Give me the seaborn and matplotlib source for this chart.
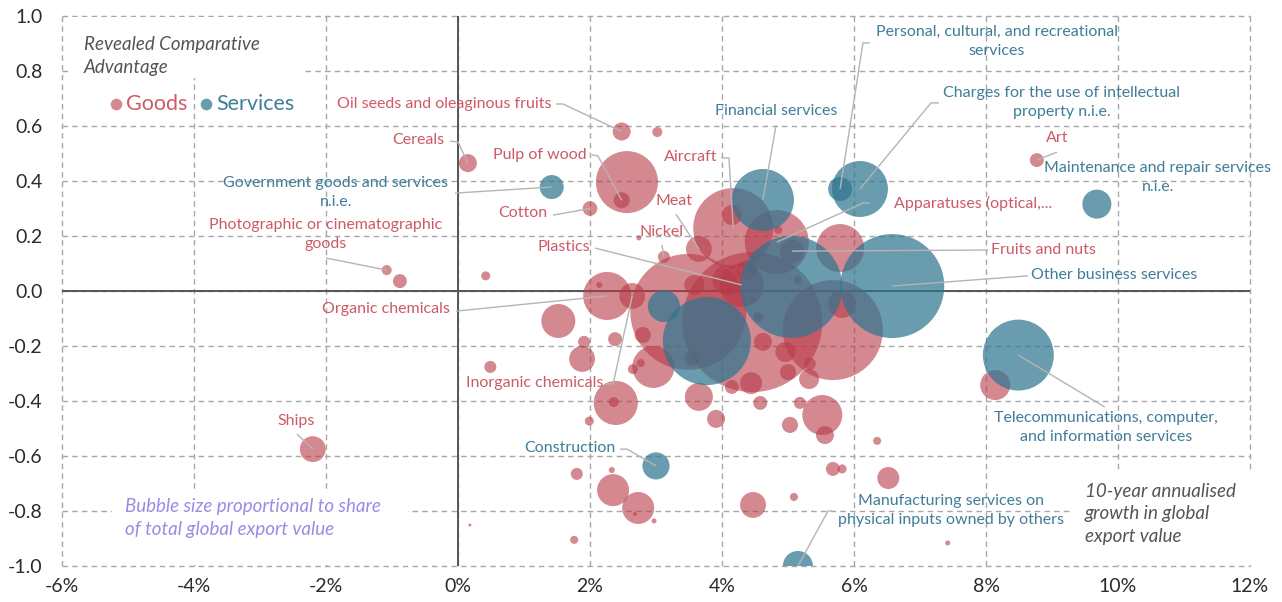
import matplotlib
matplotlib.use("Agg")
import matplotlib.pyplot as plt
import seaborn as sns
import pandas as pd
from matplotlib.patches import Rectangle

# ---------------------------------------------------------------------------
# Data: 10-year annualised export growth (%), revealed comparative advantage,
# and share of total global export value (%)
# ---------------------------------------------------------------------------
goods_growth = [2.48, 0.15, 2.48, 2.56, 2.00, 3.02, -1.08, -0.88, -2.20, 0.42,
                0.49, 1.52, 1.91, 1.88, 1.99, 2.64, 2.26, 2.14, 2.39, 2.36,
                1.80, 2.33, 2.35, 2.73, 2.68, 2.97, 1.76, 0.18, 2.74, 3.12,
                3.65, 4.17, 4.15, 4.83, 5.06, 5.79, 5.82, 3.49, 4.46, 5.68,
                4.30, 3.58, 2.80, 2.38, 2.96, 2.77, 2.65, 3.65, 3.91, 3.55,
                4.15, 4.44, 4.58, 5.18, 5.03, 5.52, 5.56, 6.35, 5.68, 5.82,
                6.52, 5.09, 4.47, 5.32, 5.33, 5.00, 4.96, 4.62, 5.15, 4.47,
                4.55, 8.14, 8.77, 7.42, 4.85, 4.45, 4.08, 4.38]
goods_rca = [0.580, 0.465, 0.330, 0.396, 0.300, 0.578, 0.076, 0.036, -0.575, 0.055,
             -0.276, -0.109, -0.185, -0.247, -0.473, -0.018, -0.018, 0.022, -0.407, -0.404,
             -0.665, -0.651, -0.724, -0.789, -0.811, -0.836, -0.905, -0.851, 0.193, 0.124,
             0.153, 0.229, 0.276, 0.178, 0.145, 0.156, -0.047, -0.076, -0.113, -0.142,
             0.022, 0.022, -0.160, -0.175, -0.276, -0.262, -0.284, -0.385, -0.465, -0.244,
             -0.349, -0.335, -0.407, -0.407, -0.487, -0.451, -0.524, -0.545, -0.647, -0.647,
             -0.680, -0.749, -0.778, -0.320, -0.265, -0.295, -0.222, -0.185, 0.040, -0.033,
             -0.095, -0.342, 0.476, -0.916, 0.222, 0.084, 0.040, 0.076]
goods_share = [0.15, 0.15, 0.12, 1.78, 0.10, 0.046, 0.046, 0.09, 0.31, 0.038,
               0.067, 0.535, 0.067, 0.31, 0.038, 0.31, 1.07, 0.017, 0.90, 0.046,
               0.067, 0.017, 0.474, 0.474, 0.0074, 0.0116, 0.030, 0.0042, 0.0116, 0.067,
               0.31, 2.96, 0.185, 1.90, 0.267, 1.07, 0.363, 6.23, 9.07, 4.63,
               0.90, 0.185, 0.12, 0.09, 0.82, 0.030, 0.046, 0.363, 0.15, 0.12,
               0.09, 0.224, 0.09, 0.067, 0.12, 0.74, 0.15, 0.030, 0.09, 0.038,
               0.224, 0.030, 0.31, 0.185, 0.067, 0.12, 0.185, 0.15, 0.030, 0.017,
               0.046, 0.417, 0.09, 0.0116, 0.030, 0.046, 0.417, 0.185]
goods_label = ["Oil seeds and oleaginous fruits", "Cereals", "Pulp of wood", "", "Cotton",
               "", "Photographic or cinematographic\ngoods", "", "Ships", "",
               "", "", "", "", "", "Inorganic chemicals", "Organic chemicals", "", "", "",
               "", "", "", "", "", "", "", "", "", "Nickel",
               "Meat", "Aircraft", "", "Apparatuses (optical,...", "Fruits and nuts", "", "", "", "", "",
               "Plastics", "", "", "", "", "", "", "", "", "",
               "", "", "", "", "", "", "", "", "", "",
               "", "", "", "", "", "", "", "", "", "",
               "", "", "Art", "", "", "", "", ""]

services_growth = [1.42, 4.62, 5.79, 6.09, 9.68, 6.58, 8.49, 3.00, 5.15, 3.12, 3.77, 5.05]
services_rca = [0.378, 0.331, 0.371, 0.371, 0.316, 0.018, -0.233, -0.636, -1.0, -0.055, -0.182, 0.015]
services_share = [0.267, 1.78, 0.267, 1.45, 0.39, 5.00, 2.33, 0.34, 0.417, 0.474, 3.59, 4.82]
services_label = ["Government goods and services\nn.i.e.", "Financial services",
                  "Personal, cultural, and recreational\nservices",
                  "Charges for the use of intellectual\nproperty n.i.e.",
                  "Maintenance and repair services\nn.i.e.", "Other business services",
                  "Telecommunications, computer,\nand information services", "Construction",
                  "Manufacturing services on\nphysical inputs owned by others", "", "", ""]

x_ticks = [-6, -4, -2, 0, 2, 4, 6, 8, 10, 12]
y_ticks = [-1.0, -0.8, -0.6, -0.4, -0.2, 0.0, 0.2, 0.4, 0.6, 0.8, 1.0]

# ---------------------------------------------------------------------------
# Label placement: text anchor, alignment and leader-line waypoints
# (the leader always ends on the bubble itself)
# ---------------------------------------------------------------------------
label_layout = {
    "Oil seeds and oleaginous fruits": (1.41, 0.68, "right", [(1.485, 0.68), (1.59, 0.68)]),
    "Cereals": (-0.20, 0.549, "right", [(-0.12, 0.545), (0.0, 0.542)]),
    "Pulp of wood": (1.955, 0.495, "right", [(2.03, 0.495), (2.12, 0.491)]),
    "Cotton": (1.35, 0.284, "right", [(1.44, 0.276)]),
    "Photographic or cinematographic\ngoods": (-2.0, 0.205, "center", [(-2.0, 0.12)]),
    "Ships": (-2.455, -0.473, "center", [(-2.44, -0.52)]),
    "Organic chemicals": (-0.12, -0.065, "right", [(-0.03, -0.073)]),
    "Inorganic chemicals": (2.197, -0.335, "right", [(2.23, -0.338), (2.35, -0.338)]),
    "Aircraft": (3.924, 0.487, "right", [(3.985, 0.484), (4.106, 0.484)]),
    "Meat": (3.27, 0.327, "center", [(3.30, 0.28)]),
    "Nickel": (3.09, 0.215, "center", [(3.09, 0.167)]),
    "Plastics": (2.0, 0.16, "right", [(2.076, 0.156)]),
    "Apparatuses (optical,...": (6.606, 0.32, "left", [(6.24, 0.32), (6.136, 0.32)]),
    "Fruits and nuts": (8.076, 0.149, "left", [(8.03, 0.149)]),
    "Art": (9.076, 0.556, "center", [(9.076, 0.505)]),
    "Government goods and services\nn.i.e.": (-1.85, 0.358, "center", [(-0.045, 0.356)]),
    "Financial services": (4.82, 0.655, "center", [(4.82, 0.604)]),
    "Personal, cultural, and recreational\nservices": (8.167, 0.907, "center",
                                                     [(6.24, 0.902), (6.136, 0.902)]),
    "Charges for the use of intellectual\nproperty n.i.e.": (9.15, 0.687, "center",
                                                            [(7.288, 0.684), (7.167, 0.684)]),
    "Maintenance and repair services\nn.i.e.": (10.606, 0.413, "center", []),
    "Other business services": (8.68, 0.058, "left", [(8.636, 0.055)]),
    "Telecommunications, computer,\nand information services": (9.82, -0.498, "center",
                                                               [(9.80, -0.422)]),
    "Construction": (2.38, -0.571, "right", [(2.455, -0.575), (2.56, -0.575)]),
    "Manufacturing services on\nphysical inputs owned by others": (7.47, -0.798, "center",
                                                                   [(5.68, -0.80), (5.606, -0.80)]),
}

GOODS_FILL = "#b83a48"
SERVICES_FILL = "#2f7690"
GOODS_TEXT = "#cc5a66"
SERVICES_TEXT = "#3f7d98"
GRID = "#a8a8a8"
LEADER = "#b4b4b4"

sns.set_theme(style="white")
plt.rcParams["font.family"] = ["Lato", "DejaVu Sans"]

fig = plt.figure(figsize=(12.82, 6.02), dpi=100)
ax = fig.add_axes([62 / 1282, 1 - 566 / 602, (1250 - 62) / 1282, (566 - 16) / 602])

# area in points^2 proportional to export share
SHARE_MAX = 10.0
AREA_MAX = 11197.0

goods = pd.DataFrame({"growth": goods_growth, "rca": goods_rca, "share": goods_share,
                      "label": goods_label}).sort_values("share", ascending=False)
services = pd.DataFrame({"growth": services_growth, "rca": services_rca,
                         "share": services_share,
                         "label": services_label}).sort_values("share", ascending=False)

for df, col, a in [(goods, GOODS_FILL, 0.6), (services, SERVICES_FILL, 0.72)]:
    sns.scatterplot(data=df, x="growth", y="rca", size="share",
                    sizes=(0, AREA_MAX), size_norm=(0, SHARE_MAX),
                    color=col, alpha=a, linewidth=0, legend=False, ax=ax, zorder=3)

ax.set_xlim(-6, 12)
ax.set_ylim(-1, 1)
ax.set_xticks(x_ticks)
ax.set_yticks(y_ticks)
ax.set_xticklabels([f"{t}%" for t in x_ticks])
ax.set_yticklabels([f"{t:.1f}" for t in y_ticks])
ax.set_xlabel("")
ax.set_ylabel("")
ax.tick_params(axis="both", length=0, labelsize=14, labelcolor="#2b2b2b")
ax.tick_params(axis="y", pad=14)
ax.tick_params(axis="x", pad=9)
for sp in ax.spines.values():
    sp.set_visible(False)

# dashed grid, including the frame edges
for t in x_ticks:
    ax.axvline(t, color=GRID, lw=1, ls=(0, (4, 3)), zorder=0, clip_on=False)
for t in y_ticks:
    ax.axhline(t, color=GRID, lw=1, ls=(0, (4, 3)), zorder=0, clip_on=False)
ax.axvline(0, color="#555555", lw=1.4, zorder=1)
ax.axhline(0, color="#555555", lw=1.4, zorder=1)

# white panels behind the annotations
for (x0, y0, x1, y1) in [(-5.85, 0.775, -2.36, 0.995),
                         (-5.24, -0.995, -0.76, -0.731),
                         (9.32, -0.995, 12.3, -0.662)]:
    ax.add_patch(Rectangle((x0, y0), x1 - x0, y1 - y0, facecolor="white",
                           edgecolor="none", zorder=0.5, clip_on=False))

# labels with leader lines
for df, tcol in [(goods, GOODS_TEXT), (services, SERVICES_TEXT)]:
    for _, row in df[df["label"] != ""].iterrows():
        tx, ty, ha, pts = label_layout[row["label"]]
        path = pts + [(row["growth"], row["rca"])]
        if len(path) > 1:
            ax.plot([p[0] for p in path], [p[1] for p in path], color=LEADER,
                    lw=1, zorder=4, solid_capstyle="butt")
        ax.text(tx, ty, row["label"], ha=ha, va="center", fontsize=11.5,
                color=tcol, zorder=5, linespacing=1.45, multialignment="center")

# legend
ax.scatter([-5.18], [0.68], s=70, color=GOODS_FILL, alpha=0.6, linewidth=0, zorder=5)
ax.text(-5.03, 0.68, "Goods", fontsize=15.5, color=GOODS_TEXT, va="center", ha="left")
ax.scatter([-3.82], [0.68], s=70, color=SERVICES_FILL, alpha=0.72, linewidth=0, zorder=5)
ax.text(-3.66, 0.68, "Services", fontsize=15.5, color=SERVICES_TEXT, va="center", ha="left")

# notes
note_kw = dict(fontsize=13.5, style="italic", ha="left", va="center",
               linespacing=1.4, zorder=5)
ax.text(-5.667, 0.855, "Revealed Comparative\nAdvantage", color="#555555", **note_kw)
ax.text(-5.045, -0.825, "Bubble size proportional to share\nof total global export value",
        color="#9a8ce6", **note_kw)
ax.text(9.5, -0.81, "10-year annualised\ngrowth in global\nexport value",
        color="#555555", **note_kw)

fig.savefig("out.png", dpi=100)
